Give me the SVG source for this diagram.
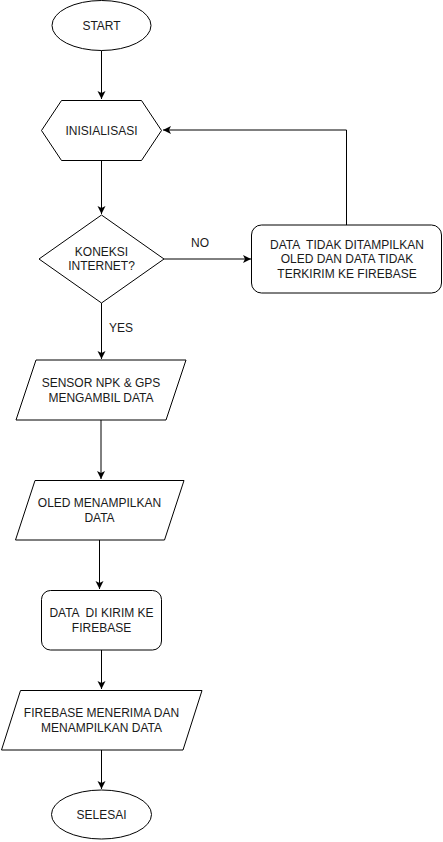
<svg xmlns="http://www.w3.org/2000/svg" width="443" height="842" viewBox="0 0 443 842">
<style>
.s{fill:#fff;stroke:#000;stroke-width:1}
.t{font-family:"Liberation Sans",Arial,sans-serif;font-size:12px;fill:#1a1a1a;text-anchor:middle;dominant-baseline:central;white-space:pre}
.c{fill:none;stroke:#000;stroke-width:1}
</style>
<defs>
<marker id="a" markerUnits="userSpaceOnUse" markerWidth="10" markerHeight="10" refX="8" refY="4" orient="auto">
<path d="M0,0 L8,4 L0,8 L2,4 Z" fill="#000"/>
</marker>
</defs>
<rect width="443" height="842" fill="#fff"/>
<g id="connectors">
<path class="c" d="M101.5,50.5 V99" marker-end="url(#a)"/>
<path class="c" d="M101.5,160.5 V214" marker-end="url(#a)"/>
<path class="c" d="M164,259 H251" marker-end="url(#a)"/>
<path class="c" d="M346.5,225 V130 H163" marker-end="url(#a)"/>
<path class="c" d="M101.5,303 V359" marker-end="url(#a)"/>
<path class="c" d="M101,420 V479" marker-end="url(#a)"/>
<path class="c" d="M99.5,540 V589" marker-end="url(#a)"/>
<path class="c" d="M101.5,650 V689" marker-end="url(#a)"/>
<path class="c" d="M101.5,750 V789" marker-end="url(#a)"/>
<text class="t" x="200" y="243">NO</text>
<text class="t" x="121" y="328">YES</text>
</g>
<g id="start">
<ellipse class="s" cx="101.5" cy="25.5" rx="49.5" ry="25"/>
<text class="t" x="101.5" y="25.5">START</text>
</g>
<g id="inisialisasi">
<polygon class="s" points="41.5,130.5 61.5,100.5 141.5,100.5 161.5,130.5 141.5,160.5 61.5,160.5"/>
<text class="t" x="101.5" y="130.5">INISIALISASI</text>
</g>
<g id="koneksi">
<polygon class="s" points="101.5,215 164,259 101.5,303 39,259"/>
<text class="t" x="101.5" y="252">KONEKSI</text>
<text class="t" x="101.5" y="266">INTERNET?</text>
</g>
<g id="tidak">
<rect class="s" x="251.5" y="225" width="190" height="68" rx="10"/>
<text class="t" x="347" y="244.5" xml:space="preserve">DATA  TIDAK DITAMPILKAN</text>
<text class="t" x="347" y="259">OLED DAN DATA TIDAK</text>
<text class="t" x="347" y="273.5">TERKIRIM KE FIREBASE</text>
</g>
<g id="sensor">
<polygon class="s" points="36,360 186,360 166,420 16,420"/>
<text class="t" x="101" y="382.5">SENSOR NPK &amp; GPS</text>
<text class="t" x="101" y="397.5">MENGAMBIL DATA</text>
</g>
<g id="oled">
<polygon class="s" points="35,480.5 184,480.5 164.5,540 15.5,540"/>
<text class="t" x="99.5" y="502.5">OLED MENAMPILKAN</text>
<text class="t" x="99.5" y="517.5">DATA</text>
</g>
<g id="kirim">
<rect class="s" x="41.5" y="590.5" width="120" height="59.5" rx="9"/>
<text class="t" x="101.5" y="613" xml:space="preserve">DATA  DI KIRIM KE</text>
<text class="t" x="101.5" y="627.5">FIREBASE</text>
</g>
<g id="terima">
<polygon class="s" points="20.5,690.5 202,690.5 183,750 1.5,750"/>
<text class="t" x="101.5" y="712.5">FIREBASE MENERIMA DAN</text>
<text class="t" x="101.5" y="727.5">MENAMPILKAN DATA</text>
</g>
<g id="selesai">
<ellipse class="s" cx="101.5" cy="814.5" rx="50" ry="24.5"/>
<text class="t" x="101.5" y="814.5">SELESAI</text>
</g>
</svg>
